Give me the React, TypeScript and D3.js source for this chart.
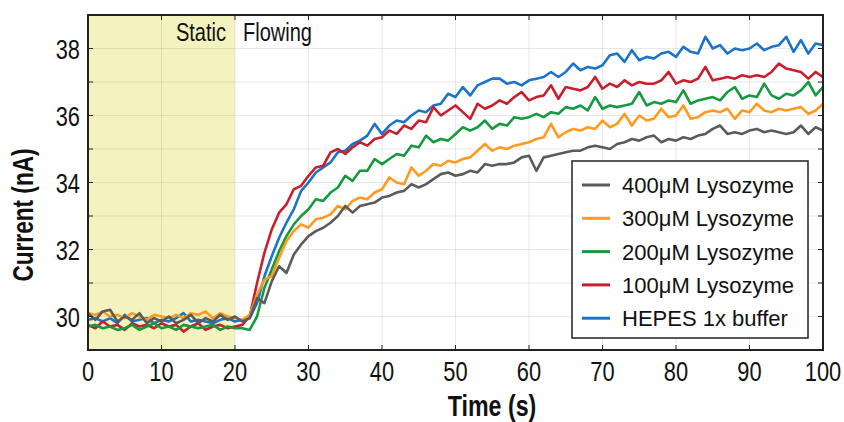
import React from "react";
import * as d3 from "d3";

// Time axis, one sample per second
const times: number[] = d3.range(0, 101);

// Current traces (nA) for each solution
const hepes: number[] = [
  29.9, 29.95, 29.85, 29.95, 29.8, 30.05, 29.85, 29.9, 29.95, 29.8, 29.9, 29.85, 29.95, 30.1, 29.85, 29.9, 29.85, 29.8, 29.9, 29.95, 29.85,
  29.9, 29.95, 30.4, 31.2, 31.8, 32.35, 32.8, 33.2, 33.75, 34.0, 34.3, 34.45, 34.6, 34.9, 34.95, 35.15, 35.25, 35.4, 35.75, 35.45,
  35.7, 35.85, 35.8, 36.0, 36.15, 36.1, 36.3, 36.35, 36.65, 36.55, 36.85, 36.6, 36.9, 37.0, 37.1, 37.1, 36.95, 37.0, 36.9, 37.05,
  37.1, 37.15, 37.3, 37.15, 37.3, 37.55, 37.35, 37.45, 37.4, 37.5, 37.8, 37.85, 37.6, 37.95, 37.65, 37.75, 37.7, 37.85, 37.9, 37.75,
  38.05, 37.9, 37.85, 38.35, 38.0, 38.1, 37.85, 38.0, 37.95, 38.0, 38.15, 37.95, 38.05, 38.1, 38.35, 37.9, 38.25, 37.85, 38.15, 38.1,
];

const lyso100: number[] = [
  29.75, 29.65, 29.85, 29.7, 29.75, 29.6, 29.8, 29.7, 29.75, 29.65, 29.8, 29.7, 29.75, 29.55, 29.7, 29.8, 29.6, 29.7, 29.75, 29.65, 29.7,
  29.75, 30.0, 31.0, 31.9, 32.6, 33.1, 33.35, 33.8, 33.9, 34.2, 34.45, 34.5, 34.9, 35.0, 34.85, 35.05, 35.2, 35.1, 35.3, 35.35,
  35.55, 35.45, 35.7, 35.6, 35.85, 35.8, 36.25, 36.0, 36.15, 36.3, 36.1, 35.9, 36.35, 36.2, 36.3, 36.45, 36.35, 36.55, 36.7, 36.45,
  36.55, 36.6, 36.9, 36.5, 36.85, 36.8, 36.75, 36.85, 37.15, 36.8, 36.95, 36.85, 37.05, 36.9, 37.0, 36.95, 36.95, 37.05, 37.3, 36.95,
  37.05, 37.0, 37.1, 37.45, 37.05, 37.1, 37.15, 37.1, 37.2, 37.15, 37.2, 37.15, 37.3, 37.55, 37.4, 37.35, 37.3, 37.1, 37.3, 37.15,
];

const lyso200: number[] = [
  29.7, 29.75, 29.65, 29.7, 29.6, 29.65, 29.75, 29.6, 29.7, 29.8, 29.65, 29.7, 29.6, 29.75, 29.7, 29.65, 29.7, 29.75, 29.6, 29.7, 29.65,
  29.65, 29.6, 30.0, 30.85, 31.4, 31.95, 32.4, 32.75, 33.0, 33.2, 33.5, 33.45, 33.7, 33.85, 34.2, 34.05, 34.35, 34.35, 34.7, 34.55,
  34.7, 34.85, 34.8, 35.1, 35.05, 35.4, 35.2, 35.3, 35.25, 35.45, 35.65, 35.55, 35.65, 35.85, 35.6, 35.75, 35.7, 35.95, 35.9, 35.95,
  36.05, 35.95, 36.1, 36.05, 36.25, 36.2, 36.3, 36.15, 36.55, 36.2, 36.3, 36.25, 36.3, 36.35, 36.7, 36.3, 36.4, 36.35, 36.45, 36.4,
  36.75, 36.35, 36.45, 36.5, 36.55, 36.45, 36.7, 36.85, 36.5, 36.6, 36.55, 36.95, 36.6, 36.5, 36.65, 36.6, 36.75, 37.0, 36.6, 36.85,
];

const lyso300: number[] = [
  30.1, 30.05, 30.15, 30.0, 30.05, 29.95, 30.1, 30.0, 29.9, 30.05, 30.0, 29.95, 30.05, 29.95, 30.1, 30.05, 30.15, 29.95, 30.1, 30.0, 29.95,
  29.9, 30.05, 30.65, 31.1, 31.2, 31.75, 32.25, 32.55, 32.75, 32.65, 32.9, 32.95, 33.05, 33.3, 33.2, 33.45, 33.55, 33.5, 33.7, 33.8,
  34.15, 34.0, 33.95, 34.45, 34.2, 34.35, 34.55, 34.5, 34.65, 34.6, 34.7, 34.75, 34.95, 35.15, 34.95, 35.05, 35.0, 35.1, 35.15, 35.2,
  35.3, 35.35, 35.75, 35.35, 35.5, 35.6, 35.55, 35.65, 35.6, 35.85, 35.65, 35.75, 36.05, 35.7, 36.0, 35.85, 35.9, 36.2, 35.95, 36.0,
  36.3, 35.9, 35.95, 36.1, 36.15, 36.1, 36.2, 35.9, 36.15, 36.1, 36.35, 36.15, 36.1, 36.2, 36.15, 36.2, 36.25, 36.05, 36.15, 36.35,
];

const lyso400: number[] = [
  30.1, 29.9, 30.15, 30.2, 29.85, 30.0, 29.9, 30.1, 29.8, 29.95, 29.85, 30.0, 29.8, 29.9, 30.05, 29.8, 29.95, 29.85, 30.05, 29.9, 30.0,
  29.85, 29.95, 30.55, 30.4, 31.05, 31.5, 31.3, 31.85, 32.15, 32.4, 32.55, 32.65, 32.8, 33.0, 33.3, 33.1, 33.3, 33.35, 33.4, 33.55,
  33.6, 33.7, 33.75, 33.95, 33.85, 33.95, 34.1, 34.25, 34.3, 34.2, 34.25, 34.35, 34.3, 34.55, 34.5, 34.55, 34.55, 34.6, 34.75, 34.8,
  34.35, 34.75, 34.8, 34.85, 34.9, 34.95, 34.95, 35.05, 35.1, 35.05, 35.0, 35.15, 35.2, 35.3, 35.25, 35.35, 35.4, 35.2, 35.3, 35.25,
  35.35, 35.3, 35.4, 35.45, 35.6, 35.7, 35.45, 35.5, 35.45, 35.55, 35.6, 35.5, 35.55, 35.5, 35.45, 35.5, 35.7, 35.45, 35.65, 35.55,
];

const seriesNames: string[] = ["400μM Lysozyme", "300μM Lysozyme", "200μM Lysozyme", "100μM Lysozyme", "HEPES 1x buffer"];
const seriesValues: number[][] = [lyso400, lyso300, lyso200, lyso100, hepes];
const seriesColors: string[] = ["#5b5b5b", "#ff9a1f", "#16993f", "#c81f2f", "#1b74c7"];

const xTicks: number[] = [0, 10, 20, 30, 40, 50, 60, 70, 80, 90, 100];
const yTicks: number[] = [30, 32, 34, 36, 38];
const yMinor: number[] = [29, 30, 31, 32, 33, 34, 35, 36, 37, 38, 39];

const staticEnd = 20;

const W = 844;
const H = 422;
const plot = { left: 88, right: 823, top: 15, bottom: 350 };

export default function App() {
  const x = d3.scaleLinear().domain([0, 100]).range([plot.left, plot.right]);
  const y = d3.scaleLinear().domain([29, 39]).range([plot.bottom, plot.top]);
  const line = d3
    .line<number>()
    .x((_, i) => x(times[i]))
    .y((d) => y(d));

  const font = "'Liberation Sans', Arial, Helvetica, sans-serif";
  const tickFs = 28;
  const tickSx = 0.78;
  const drawOrder = [4, 3, 2, 1, 0];
  const legendRowY = (i: number) => 185 + i * 33.3;

  return (
    <svg
      width={W}
      height={H}
      style={{ position: "fixed", left: 0, top: 0, background: "#fff" }}
      fontFamily={font}
    >
      <defs>
        <clipPath id="plot-clip">
          <rect x={plot.left} y={plot.top} width={plot.right - plot.left} height={plot.bottom - plot.top} />
        </clipPath>
      </defs>

      {/* static (no-flow) period */}
      <rect
        x={x(0)}
        y={plot.top}
        width={x(staticEnd) - x(0)}
        height={plot.bottom - plot.top}
        fill="#f3f3bf"
      />

      {/* grid */}
      {yMinor.map((v) => (
        <line key={"gy" + v} x1={plot.left} x2={plot.right} y1={y(v)} y2={y(v)} stroke="rgba(0,0,0,0.09)" strokeWidth={1} />
      ))}
      {xTicks.map((v) => (
        <line key={"gx" + v} x1={x(v)} x2={x(v)} y1={plot.top} y2={plot.bottom} stroke="rgba(0,0,0,0.09)" strokeWidth={1} />
      ))}

      {/* phase labels */}
      <text transform={`translate(${x(staticEnd) - 9},41) scale(0.77,1)`} fontSize={26} textAnchor="end" fill="#111">
        Static
      </text>
      <text transform={`translate(${x(staticEnd) + 8},41) scale(0.77,1)`} fontSize={26} textAnchor="start" fill="#111">
        Flowing
      </text>

      {/* traces */}
      <g clipPath="url(#plot-clip)">
        {drawOrder.map((si) => (
          <path
            key={seriesNames[si]}
            d={line(seriesValues[si]) || ""}
            fill="none"
            stroke={seriesColors[si]}
            strokeWidth={2.6}
            strokeLinejoin="round"
          />
        ))}
      </g>

      {/* axes frame and inward ticks */}
      {yMinor.map((v) => (
        <g key={"ty" + v}>
          <line x1={plot.left} x2={plot.left + 5} y1={y(v)} y2={y(v)} stroke="#222" strokeWidth={1} />
          <line x1={plot.right - 5} x2={plot.right} y1={y(v)} y2={y(v)} stroke="#222" strokeWidth={1} />
        </g>
      ))}
      {xTicks.map((v) => (
        <g key={"tx" + v}>
          <line x1={x(v)} x2={x(v)} y1={plot.bottom} y2={plot.bottom - 5} stroke="#222" strokeWidth={1} />
          <line x1={x(v)} x2={x(v)} y1={plot.top} y2={plot.top + 5} stroke="#222" strokeWidth={1} />
        </g>
      ))}
      <rect
        x={plot.left}
        y={plot.top}
        width={plot.right - plot.left}
        height={plot.bottom - plot.top}
        fill="none"
        stroke="#222"
        strokeWidth={2}
      />

      {/* tick labels */}
      {xTicks.map((v) => (
        <text key={"lx" + v} transform={`translate(${x(v)},381) scale(${tickSx},1)`} fontSize={tickFs} textAnchor="middle" fill="#111">
          {v}
        </text>
      ))}
      {yTicks.map((v) => (
        <text key={"ly" + v} transform={`translate(80,${y(v) + 10}) scale(${tickSx},1)`} fontSize={tickFs} textAnchor="end" fill="#111">
          {v}
        </text>
      ))}

      {/* axis titles */}
      <text transform="translate(492,416) scale(0.8,1)" fontSize={29} fontWeight="bold" textAnchor="middle" fill="#111">
        Time (s)
      </text>
      <text transform="translate(33,215) rotate(-90) scale(0.78,1)" fontSize={29} fontWeight="bold" textAnchor="middle" fill="#111">
        Current (nA)
      </text>

      {/* legend */}
      <rect x={572} y={161} width={236} height={177} fill="#fff" stroke="#222" strokeWidth={1.5} />
      {seriesNames.map((name, i) => (
        <g key={"lg" + name}>
          <line x1={582} x2={610} y1={legendRowY(i)} y2={legendRowY(i)} stroke={seriesColors[i]} strokeWidth={3} />
          <text x={622} y={legendRowY(i) + 8} fontSize={22} fill="#111">
            {name}
          </text>
        </g>
      ))}
    </svg>
  );
}
